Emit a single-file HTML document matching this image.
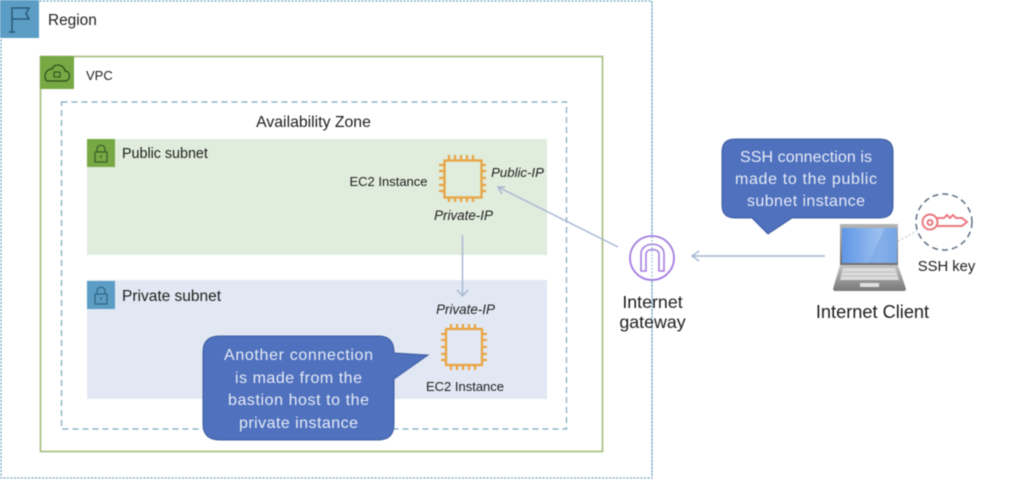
<!DOCTYPE html>
<html><head><meta charset="utf-8"><style>
html,body{margin:0;padding:0;background:#fff}
svg{display:block;filter:blur(.45px)}
text{font-family:"Liberation Sans",sans-serif;fill:#1d1d1d}
.c text{fill:#e6ebf6;font-size:16px;text-anchor:middle}
.chip{fill:none;stroke:#e8a544;stroke-width:2.3}
</style></head><body>
<svg width="1024" height="479" viewBox="0 0 1024 479" xmlns="http://www.w3.org/2000/svg">
<defs><linearGradient id="s" x1="0" y1="0" x2="1" y2="0"><stop offset="0" stop-color="#5f97e6"/><stop offset=".7" stop-color="#9cc0f0"/><stop offset="1" stop-color="#6a9de2"/></linearGradient>
<linearGradient id="b" x1="0" y1="0" x2="0" y2="1"><stop offset="0" stop-color="#c4c4c4"/><stop offset="1" stop-color="#777"/></linearGradient>
<linearGradient id="f" x1="0" y1="0" x2="0" y2="1"><stop offset="0" stop-color="#b5b5b5"/><stop offset="1" stop-color="#6e6e6e"/></linearGradient></defs>
<rect width="1024" height="479" fill="#fff"/>
<!-- Region -->
<rect x="1" y="1" width="651" height="477" fill="none" stroke="#6ea6c2" stroke-width="1.3" stroke-dasharray="2 1.5"/>
<rect x="0" y="0" width="39" height="38" fill="#5b9dc5"/>
<g fill="none" stroke="#2a5a7c" stroke-width="1.5"><path d="M12 7V32M9 32H15M12 8H29L26 13.5L29 19H12"/></g>
<text x="48" y="25" font-size="15.4">Region</text>
<!-- VPC -->
<rect x="40.5" y="56.5" width="562" height="395" fill="none" stroke="#a3bc7c" stroke-width="1.6"/>
<rect x="40" y="56" width="34" height="33" fill="#76a843"/>
<path d="M48 81H65C71 81 71 71 65 71C64 64 54 63 52 69C44 69 43 81 48 81Z" fill="none" stroke="#2c4a1c" stroke-width="1.2"/>
<rect x="54" y="72" width="6" height="5" fill="none" stroke="#2c4a1c"/>
<text x="86" y="80" font-size="13">VPC</text>
<!-- AZ -->
<rect x="61.5" y="102" width="505" height="327" fill="none" stroke="#7ba7bf" stroke-width="1.2" stroke-dasharray="6 4"/>
<text x="313.5" y="127" font-size="15.8" text-anchor="middle">Availability Zone</text>
<!-- Public subnet -->
<rect x="87" y="139" width="460" height="116" fill="#e0ecdc"/>
<rect x="87" y="139" width="28" height="28" fill="#76a843"/>
<g fill="none" stroke="#35562a" stroke-width="1.1"><rect x="95" y="152" width="12" height="10"/><path d="M97 152V149C97 144 105 144 105 149V152"/><path d="M101 155V158"/></g>
<text x="122" y="158" font-size="14.3">Public subnet</text>
<!-- Private subnet -->
<rect x="87" y="280" width="460" height="119" fill="#e2e8f3"/>
<rect x="87" y="281" width="28" height="28" fill="#5b9dc5"/>
<g fill="none" stroke="#2f5f7f" stroke-width="1.1"><rect x="95" y="294" width="12" height="10"/><path d="M97 294V291C97 286 105 286 105 291V294"/><path d="M101 297V300"/></g>
<text x="122" y="301" font-size="15.5">Private subnet</text>
<!-- Chip 1 -->
<g class="chip"><rect x="444.5" y="160.5" width="37" height="37"/>
<path d="M449 160V155M455 160V155M461 160V155M467 160V155M473 160V155M449 197V202M455 197V202M461 197V202M467 197V202M473 197V202M444 165H439M444 171H439M444 178H439M444 185H439M444 191H439M481 165H486M481 171H486M481 178H486M481 185H486M481 191H486"/></g>
<!-- Chip 2 -->
<g class="chip"><rect x="446" y="329" width="36" height="36"/>
<path d="M451 329V324M457 329V324M463 329V324M469 329V324M475 329V324M451 365V370M457 365V370M463 365V370M469 365V370M475 365V370M446 334H441M446 340H441M446 347H441M446 354H441M446 360H441M482 334H487M482 340H487M482 347H487M482 354H487M482 360H487"/></g>
<text x="388.5" y="186" font-size="13" text-anchor="middle">EC2 Instance</text>
<text x="517.5" y="177" font-size="13.2" font-style="italic" text-anchor="middle">Public-IP</text>
<text x="463.5" y="220" font-size="13.4" font-style="italic" text-anchor="middle">Private-IP</text>
<text x="465.5" y="314" font-size="13.4" font-style="italic" text-anchor="middle">Private-IP</text>
<text x="465" y="391" font-size="13" text-anchor="middle">EC2 Instance</text>
<!-- Arrows -->
<g fill="none" stroke="#a6b5d2" stroke-width="1.4">
<path d="M618 247L498 187M505 187L498 187L502 194"/>
<path d="M462.5 235V296M457 290L462.5 296L468 290"/>
<path d="M825 256H692M699 251L692 256L699 261"/>
</g>
<!-- Gateway -->
<circle cx="652" cy="258" r="22" fill="#fff" stroke="#a67fe0" stroke-width="1.8"/>
<path d="M641 271V254C641 241 664 241 664 254V271H659V254C659 248 646 248 646 254V271Z" fill="none" stroke="#a67fe0" stroke-width="1.6"/>
<path d="M652 2V476" stroke="#6ea6c2" stroke-width="1" stroke-dasharray="2 1.5" opacity=".8"/>
<text x="652.5" y="308" font-size="17.8" text-anchor="middle">Internet</text>
<text x="652.5" y="328" font-size="17.8" text-anchor="middle">gateway</text>
<!-- Callout 1 -->
<g class="c">
<path d="M735 139H880Q893 139 893 152V205Q893 218 880 218H792L768 234L752 218H735Q722 218 722 205V152Q722 139 735 139Z" fill="#4f71be" stroke="#3f5c9e"/>
<text x="806" y="162" textLength="132" lengthAdjust="spacing">SSH connection is</text>
<text x="806" y="184" textLength="142" lengthAdjust="spacing">made to the public</text>
<text x="806" y="206" textLength="118" lengthAdjust="spacing">subnet instance</text>
</g>
<!-- Callout 2 -->
<g class="c">
<path d="M220 336H378Q394 336 394 352V353L428 355L394 379V424Q394 440 378 440H220Q203 440 203 424V352Q203 336 220 336Z" fill="#4f71be" stroke="#3f5c9e"/>
<text x="298.5" y="360" textLength="149" lengthAdjust="spacing">Another connection</text>
<text x="298.5" y="383" textLength="127" lengthAdjust="spacing">is made from the</text>
<text x="298.5" y="405" textLength="141" lengthAdjust="spacing">bastion host to the</text>
<text x="298.5" y="428" textLength="119" lengthAdjust="spacing">private instance</text>
</g>
<!-- Laptop -->
<rect x="840" y="224" width="58" height="42" rx="1" fill="url(#f)"/>
<rect x="842" y="228" width="55" height="35" fill="url(#s)"/>
<path d="M885 228H897V263H868Z" fill="#7aa8e6" opacity=".7"/>
<path d="M840 265H898L906 289L905 291H834L833 289Z" fill="url(#b)"/>
<path d="M843 268H895L899 280H840Z" fill="#dcdcdc"/>
<path d="M842 272H896M841 276H897" stroke="#b5b5b5" stroke-width=".8"/>
<rect x="860" y="283" width="19" height="4" fill="#e0e0e0"/>
<!-- Key -->
<path d="M898 241L917 231" stroke="#b9bfc4" stroke-width="1" stroke-dasharray="2 2"/>
<circle cx="944" cy="222" r="28" fill="#fff" stroke="#5f6f82" stroke-width="1.5" stroke-dasharray="6 4"/>
<g fill="none" stroke="#e87a80" stroke-width="2"><circle cx="930" cy="222" r="7.5"/><circle cx="930" cy="222.5" r="2.5"/>
<path d="M937 218H944L947 215L950 218L953 215L956 218L962 218L967 222L962 226H937"/></g>
<text x="946.5" y="271" font-size="14.8" text-anchor="middle">SSH key</text>
<text x="872.5" y="318" font-size="18.2" text-anchor="middle">Internet Client</text>
</svg>
</body></html>
